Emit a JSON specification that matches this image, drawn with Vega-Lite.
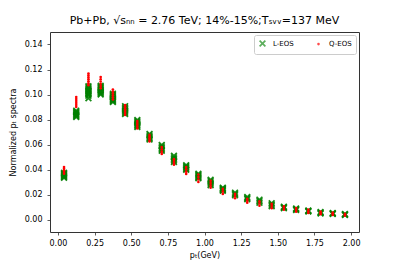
{
  "$schema": "https://vega.github.io/schema/vega-lite/v6.json",
  "width": 309,
  "height": 200,
  "autosize": "none",
  "padding": {"left": 50, "top": 32, "right": 40, "bottom": 34},
  "background": "white",
  "title": {"text": "Pb+Pb, √sₙₙ = 2.76 TeV; 14%-15%;Tₛᵥᵥ=137 MeV", "font": "DejaVu Sans", "fontSize": 11, "fontWeight": "normal", "color": "#000", "offset": 6},
  "config": {
    "view": {"stroke": "#333", "strokeWidth": 1},
    "axis": {"domain": false, "grid": false, "tickColor": "#333", "tickSize": 3, "tickWidth": 0.8, "labelFont": "DejaVu Sans", "labelFontSize": 8, "labelColor": "#000", "titleFont": "DejaVu Sans", "titleFontSize": 8, "titleFontWeight": "normal", "titleColor": "#000"},
    "legend": {"labelFont": "DejaVu Sans", "labelFontSize": 7, "labelColor": "#000"}
  },
  "datasets": {
    "pts": [
      {"pT": 0.0417, "v": 0.0334, "eos": "L-EOS"}, {"pT": 0.0417, "v": 0.0341, "eos": "L-EOS"}, {"pT": 0.0417, "v": 0.0347, "eos": "L-EOS"}, {"pT": 0.0417, "v": 0.0354, "eos": "L-EOS"}, {"pT": 0.0417, "v": 0.0361, "eos": "L-EOS"}, {"pT": 0.0417, "v": 0.0367, "eos": "L-EOS"}, {"pT": 0.0417, "v": 0.0374, "eos": "L-EOS"},
      {"pT": 0.125, "v": 0.082, "eos": "L-EOS"}, {"pT": 0.125, "v": 0.0828, "eos": "L-EOS"}, {"pT": 0.125, "v": 0.0837, "eos": "L-EOS"}, {"pT": 0.125, "v": 0.0845, "eos": "L-EOS"}, {"pT": 0.125, "v": 0.0854, "eos": "L-EOS"}, {"pT": 0.125, "v": 0.0862, "eos": "L-EOS"}, {"pT": 0.125, "v": 0.0871, "eos": "L-EOS"},
      {"pT": 0.2083, "v": 0.097, "eos": "L-EOS"}, {"pT": 0.2083, "v": 0.0991, "eos": "L-EOS"}, {"pT": 0.2083, "v": 0.1, "eos": "L-EOS"}, {"pT": 0.2083, "v": 0.101, "eos": "L-EOS"}, {"pT": 0.2083, "v": 0.1019, "eos": "L-EOS"}, {"pT": 0.2083, "v": 0.1029, "eos": "L-EOS"}, {"pT": 0.2083, "v": 0.1038, "eos": "L-EOS"}, {"pT": 0.2083, "v": 0.1047, "eos": "L-EOS"}, {"pT": 0.2083, "v": 0.1057, "eos": "L-EOS"}, {"pT": 0.2083, "v": 0.1066, "eos": "L-EOS"},
      {"pT": 0.2917, "v": 0.1, "eos": "L-EOS"}, {"pT": 0.2917, "v": 0.1009, "eos": "L-EOS"}, {"pT": 0.2917, "v": 0.1018, "eos": "L-EOS"}, {"pT": 0.2917, "v": 0.1026, "eos": "L-EOS"}, {"pT": 0.2917, "v": 0.1035, "eos": "L-EOS"}, {"pT": 0.2917, "v": 0.1044, "eos": "L-EOS"}, {"pT": 0.2917, "v": 0.1053, "eos": "L-EOS"}, {"pT": 0.2917, "v": 0.1061, "eos": "L-EOS"}, {"pT": 0.2917, "v": 0.107, "eos": "L-EOS"},
      {"pT": 0.375, "v": 0.094, "eos": "L-EOS"}, {"pT": 0.375, "v": 0.0948, "eos": "L-EOS"}, {"pT": 0.375, "v": 0.0957, "eos": "L-EOS"}, {"pT": 0.375, "v": 0.0965, "eos": "L-EOS"}, {"pT": 0.375, "v": 0.0974, "eos": "L-EOS"}, {"pT": 0.375, "v": 0.0982, "eos": "L-EOS"}, {"pT": 0.375, "v": 0.099, "eos": "L-EOS"}, {"pT": 0.375, "v": 0.0998, "eos": "L-EOS"}, {"pT": 0.375, "v": 0.1007, "eos": "L-EOS"},
      {"pT": 0.4583, "v": 0.0844, "eos": "L-EOS"}, {"pT": 0.4583, "v": 0.0854, "eos": "L-EOS"}, {"pT": 0.4583, "v": 0.0865, "eos": "L-EOS"}, {"pT": 0.4583, "v": 0.0875, "eos": "L-EOS"}, {"pT": 0.4583, "v": 0.0886, "eos": "L-EOS"}, {"pT": 0.4583, "v": 0.0896, "eos": "L-EOS"}, {"pT": 0.4583, "v": 0.0907, "eos": "L-EOS"},
      {"pT": 0.5417, "v": 0.074, "eos": "L-EOS"}, {"pT": 0.5417, "v": 0.075, "eos": "L-EOS"}, {"pT": 0.5417, "v": 0.0759, "eos": "L-EOS"}, {"pT": 0.5417, "v": 0.0768, "eos": "L-EOS"}, {"pT": 0.5417, "v": 0.0777, "eos": "L-EOS"}, {"pT": 0.5417, "v": 0.0786, "eos": "L-EOS"}, {"pT": 0.5417, "v": 0.0796, "eos": "L-EOS"},
      {"pT": 0.625, "v": 0.064, "eos": "L-EOS"}, {"pT": 0.625, "v": 0.0651, "eos": "L-EOS"}, {"pT": 0.625, "v": 0.0662, "eos": "L-EOS"}, {"pT": 0.625, "v": 0.0673, "eos": "L-EOS"}, {"pT": 0.625, "v": 0.0685, "eos": "L-EOS"},
      {"pT": 0.7083, "v": 0.055, "eos": "L-EOS"}, {"pT": 0.7083, "v": 0.0561, "eos": "L-EOS"}, {"pT": 0.7083, "v": 0.0573, "eos": "L-EOS"}, {"pT": 0.7083, "v": 0.0585, "eos": "L-EOS"}, {"pT": 0.7083, "v": 0.0597, "eos": "L-EOS"},
      {"pT": 0.7917, "v": 0.046, "eos": "L-EOS"}, {"pT": 0.7917, "v": 0.0472, "eos": "L-EOS"}, {"pT": 0.7917, "v": 0.0485, "eos": "L-EOS"}, {"pT": 0.7917, "v": 0.0497, "eos": "L-EOS"}, {"pT": 0.7917, "v": 0.051, "eos": "L-EOS"},
      {"pT": 0.875, "v": 0.0398, "eos": "L-EOS"}, {"pT": 0.875, "v": 0.0407, "eos": "L-EOS"}, {"pT": 0.875, "v": 0.0416, "eos": "L-EOS"}, {"pT": 0.875, "v": 0.0425, "eos": "L-EOS"}, {"pT": 0.875, "v": 0.0434, "eos": "L-EOS"},
      {"pT": 0.9583, "v": 0.033, "eos": "L-EOS"}, {"pT": 0.9583, "v": 0.0339, "eos": "L-EOS"}, {"pT": 0.9583, "v": 0.0348, "eos": "L-EOS"}, {"pT": 0.9583, "v": 0.0357, "eos": "L-EOS"}, {"pT": 0.9583, "v": 0.0366, "eos": "L-EOS"},
      {"pT": 1.0417, "v": 0.0275, "eos": "L-EOS"}, {"pT": 1.0417, "v": 0.0286, "eos": "L-EOS"}, {"pT": 1.0417, "v": 0.0296, "eos": "L-EOS"}, {"pT": 1.0417, "v": 0.0307, "eos": "L-EOS"}, {"pT": 1.0417, "v": 0.0318, "eos": "L-EOS"},
      {"pT": 1.125, "v": 0.023, "eos": "L-EOS"}, {"pT": 1.125, "v": 0.0237, "eos": "L-EOS"}, {"pT": 1.125, "v": 0.0243, "eos": "L-EOS"}, {"pT": 1.125, "v": 0.0249, "eos": "L-EOS"}, {"pT": 1.125, "v": 0.0255, "eos": "L-EOS"},
      {"pT": 1.2083, "v": 0.0195, "eos": "L-EOS"}, {"pT": 1.2083, "v": 0.0205, "eos": "L-EOS"}, {"pT": 1.2083, "v": 0.0215, "eos": "L-EOS"},
      {"pT": 1.2917, "v": 0.0163, "eos": "L-EOS"}, {"pT": 1.2917, "v": 0.0171, "eos": "L-EOS"}, {"pT": 1.2917, "v": 0.018, "eos": "L-EOS"},
      {"pT": 1.375, "v": 0.0135, "eos": "L-EOS"}, {"pT": 1.375, "v": 0.0147, "eos": "L-EOS"}, {"pT": 1.375, "v": 0.0159, "eos": "L-EOS"},
      {"pT": 1.4583, "v": 0.0107, "eos": "L-EOS"}, {"pT": 1.4583, "v": 0.0118, "eos": "L-EOS"}, {"pT": 1.4583, "v": 0.013, "eos": "L-EOS"},
      {"pT": 1.5417, "v": 0.0091, "eos": "L-EOS"}, {"pT": 1.5417, "v": 0.0097, "eos": "L-EOS"}, {"pT": 1.5417, "v": 0.0103, "eos": "L-EOS"},
      {"pT": 1.625, "v": 0.0076, "eos": "L-EOS"}, {"pT": 1.625, "v": 0.0082, "eos": "L-EOS"}, {"pT": 1.625, "v": 0.0088, "eos": "L-EOS"},
      {"pT": 1.7083, "v": 0.0064, "eos": "L-EOS"}, {"pT": 1.7083, "v": 0.0068, "eos": "L-EOS"}, {"pT": 1.7083, "v": 0.0072, "eos": "L-EOS"},
      {"pT": 1.7917, "v": 0.0048, "eos": "L-EOS"}, {"pT": 1.7917, "v": 0.0054, "eos": "L-EOS"}, {"pT": 1.7917, "v": 0.006, "eos": "L-EOS"},
      {"pT": 1.875, "v": 0.0044, "eos": "L-EOS"}, {"pT": 1.875, "v": 0.0048, "eos": "L-EOS"}, {"pT": 1.875, "v": 0.0052, "eos": "L-EOS"},
      {"pT": 1.9583, "v": 0.0036, "eos": "L-EOS"}, {"pT": 1.9583, "v": 0.004, "eos": "L-EOS"}, {"pT": 1.9583, "v": 0.0044, "eos": "L-EOS"},
      {"pT": 0.0417, "v": 0.0366, "eos": "Q-EOS"}, {"pT": 0.0417, "v": 0.038, "eos": "Q-EOS"}, {"pT": 0.0417, "v": 0.0393, "eos": "Q-EOS"}, {"pT": 0.0417, "v": 0.0407, "eos": "Q-EOS"}, {"pT": 0.0417, "v": 0.042, "eos": "Q-EOS"},
      {"pT": 0.125, "v": 0.09, "eos": "Q-EOS"}, {"pT": 0.125, "v": 0.0916, "eos": "Q-EOS"}, {"pT": 0.125, "v": 0.0932, "eos": "Q-EOS"}, {"pT": 0.125, "v": 0.0948, "eos": "Q-EOS"}, {"pT": 0.125, "v": 0.0964, "eos": "Q-EOS"}, {"pT": 0.125, "v": 0.098, "eos": "Q-EOS"},
      {"pT": 0.2083, "v": 0.1075, "eos": "Q-EOS"}, {"pT": 0.2083, "v": 0.109, "eos": "Q-EOS"}, {"pT": 0.2083, "v": 0.1106, "eos": "Q-EOS"}, {"pT": 0.2083, "v": 0.1122, "eos": "Q-EOS"}, {"pT": 0.2083, "v": 0.1137, "eos": "Q-EOS"}, {"pT": 0.2083, "v": 0.1153, "eos": "Q-EOS"}, {"pT": 0.2083, "v": 0.1168, "eos": "Q-EOS"},
      {"pT": 0.2917, "v": 0.105, "eos": "Q-EOS"}, {"pT": 0.2917, "v": 0.1068, "eos": "Q-EOS"}, {"pT": 0.2917, "v": 0.1086, "eos": "Q-EOS"}, {"pT": 0.2917, "v": 0.1104, "eos": "Q-EOS"}, {"pT": 0.2917, "v": 0.1122, "eos": "Q-EOS"}, {"pT": 0.2917, "v": 0.114, "eos": "Q-EOS"},
      {"pT": 0.375, "v": 0.096, "eos": "Q-EOS"}, {"pT": 0.375, "v": 0.0976, "eos": "Q-EOS"}, {"pT": 0.375, "v": 0.0992, "eos": "Q-EOS"}, {"pT": 0.375, "v": 0.1008, "eos": "Q-EOS"}, {"pT": 0.375, "v": 0.1024, "eos": "Q-EOS"}, {"pT": 0.375, "v": 0.104, "eos": "Q-EOS"},
      {"pT": 0.4583, "v": 0.0836, "eos": "Q-EOS"}, {"pT": 0.4583, "v": 0.0852, "eos": "Q-EOS"}, {"pT": 0.4583, "v": 0.0868, "eos": "Q-EOS"}, {"pT": 0.4583, "v": 0.0883, "eos": "Q-EOS"}, {"pT": 0.4583, "v": 0.0899, "eos": "Q-EOS"}, {"pT": 0.4583, "v": 0.0915, "eos": "Q-EOS"},
      {"pT": 0.5417, "v": 0.0728, "eos": "Q-EOS"}, {"pT": 0.5417, "v": 0.0743, "eos": "Q-EOS"}, {"pT": 0.5417, "v": 0.0758, "eos": "Q-EOS"}, {"pT": 0.5417, "v": 0.0773, "eos": "Q-EOS"}, {"pT": 0.5417, "v": 0.0788, "eos": "Q-EOS"},
      {"pT": 0.625, "v": 0.0625, "eos": "Q-EOS"}, {"pT": 0.625, "v": 0.0638, "eos": "Q-EOS"}, {"pT": 0.625, "v": 0.0651, "eos": "Q-EOS"}, {"pT": 0.625, "v": 0.0664, "eos": "Q-EOS"}, {"pT": 0.625, "v": 0.0677, "eos": "Q-EOS"},
      {"pT": 0.7083, "v": 0.0525, "eos": "Q-EOS"}, {"pT": 0.7083, "v": 0.0543, "eos": "Q-EOS"}, {"pT": 0.7083, "v": 0.0562, "eos": "Q-EOS"}, {"pT": 0.7083, "v": 0.058, "eos": "Q-EOS"},
      {"pT": 0.7917, "v": 0.0438, "eos": "Q-EOS"}, {"pT": 0.7917, "v": 0.0453, "eos": "Q-EOS"}, {"pT": 0.7917, "v": 0.0468, "eos": "Q-EOS"}, {"pT": 0.7917, "v": 0.0483, "eos": "Q-EOS"},
      {"pT": 0.875, "v": 0.0365, "eos": "Q-EOS"}, {"pT": 0.875, "v": 0.0383, "eos": "Q-EOS"}, {"pT": 0.875, "v": 0.0402, "eos": "Q-EOS"}, {"pT": 0.875, "v": 0.042, "eos": "Q-EOS"},
      {"pT": 0.9583, "v": 0.03, "eos": "Q-EOS"}, {"pT": 0.9583, "v": 0.032, "eos": "Q-EOS"}, {"pT": 0.9583, "v": 0.034, "eos": "Q-EOS"}, {"pT": 0.9583, "v": 0.036, "eos": "Q-EOS"},
      {"pT": 1.0417, "v": 0.0255, "eos": "Q-EOS"}, {"pT": 1.0417, "v": 0.0273, "eos": "Q-EOS"}, {"pT": 1.0417, "v": 0.0292, "eos": "Q-EOS"}, {"pT": 1.0417, "v": 0.031, "eos": "Q-EOS"},
      {"pT": 1.125, "v": 0.0205, "eos": "Q-EOS"}, {"pT": 1.125, "v": 0.0225, "eos": "Q-EOS"}, {"pT": 1.125, "v": 0.0245, "eos": "Q-EOS"},
      {"pT": 1.2083, "v": 0.017, "eos": "Q-EOS"}, {"pT": 1.2083, "v": 0.0188, "eos": "Q-EOS"}, {"pT": 1.2083, "v": 0.0205, "eos": "Q-EOS"},
      {"pT": 1.2917, "v": 0.0135, "eos": "Q-EOS"}, {"pT": 1.2917, "v": 0.015, "eos": "Q-EOS"}, {"pT": 1.2917, "v": 0.0165, "eos": "Q-EOS"},
      {"pT": 1.375, "v": 0.011, "eos": "Q-EOS"}, {"pT": 1.375, "v": 0.0128, "eos": "Q-EOS"}, {"pT": 1.375, "v": 0.0145, "eos": "Q-EOS"},
      {"pT": 1.4583, "v": 0.009, "eos": "Q-EOS"}, {"pT": 1.4583, "v": 0.0108, "eos": "Q-EOS"}, {"pT": 1.4583, "v": 0.0125, "eos": "Q-EOS"},
      {"pT": 1.5417, "v": 0.0078, "eos": "Q-EOS"}, {"pT": 1.5417, "v": 0.0092, "eos": "Q-EOS"}, {"pT": 1.5417, "v": 0.0105, "eos": "Q-EOS"},
      {"pT": 1.625, "v": 0.0062, "eos": "Q-EOS"}, {"pT": 1.625, "v": 0.0077, "eos": "Q-EOS"}, {"pT": 1.625, "v": 0.0092, "eos": "Q-EOS"},
      {"pT": 1.7083, "v": 0.0052, "eos": "Q-EOS"}, {"pT": 1.7083, "v": 0.0066, "eos": "Q-EOS"}, {"pT": 1.7083, "v": 0.008, "eos": "Q-EOS"},
      {"pT": 1.7917, "v": 0.0043, "eos": "Q-EOS"}, {"pT": 1.7917, "v": 0.0053, "eos": "Q-EOS"}, {"pT": 1.7917, "v": 0.0063, "eos": "Q-EOS"},
      {"pT": 1.875, "v": 0.0037, "eos": "Q-EOS"}, {"pT": 1.875, "v": 0.0046, "eos": "Q-EOS"}, {"pT": 1.875, "v": 0.0055, "eos": "Q-EOS"},
      {"pT": 1.9583, "v": 0.0031, "eos": "Q-EOS"}, {"pT": 1.9583, "v": 0.0038, "eos": "Q-EOS"}, {"pT": 1.9583, "v": 0.0045, "eos": "Q-EOS"}
    ]
  },
  "data": {"name": "pts"},
  "mark": {"type": "point", "filled": true, "strokeWidth": 0},
  "encoding": {
    "x": {"field": "pT", "type": "quantitative", "scale": {"domain": [-0.054, 2.054], "nice": false, "zero": false},
      "axis": {"title": "pₜ(GeV)", "values": [0, 0.25, 0.5, 0.75, 1, 1.25, 1.5, 1.75, 2], "format": ".2f", "labelPadding": 4, "titlePadding": 4}},
    "y": {"field": "v", "type": "quantitative", "scale": {"domain": [-0.01, 0.15], "nice": false, "zero": false},
      "axis": {"title": "Normalized pₜ spectra", "values": [0, 0.02, 0.04, 0.06, 0.08, 0.1, 0.12, 0.14], "format": ".2f", "labelPadding": 5, "titlePadding": 7}},
    "color": {"field": "eos", "type": "nominal", "scale": {"domain": ["L-EOS", "Q-EOS"], "range": ["#008000", "#ff0000"]},
      "legend": {"title": null, "orient": "top-right", "offset": 3, "direction": "horizontal", "columns": 2, "columnPadding": 20, "labelOffset": 6, "padding": 4, "strokeColor": "#ccc", "fillColor": "white", "cornerRadius": 2, "symbolOpacity": 0.5}},
    "shape": {"field": "eos", "type": "nominal", "scale": {"domain": ["L-EOS", "Q-EOS"], "range": ["M-1,-0.65L-0.65,-1L0,-0.35L0.65,-1L1,-0.65L0.35,0L1,0.65L0.65,1L0,0.35L-0.65,1L-1,0.65L-0.35,0Z", "circle"]}},
    "size": {"field": "eos", "type": "nominal", "scale": {"domain": ["L-EOS", "Q-EOS"], "range": [49, 7]}},
    "opacity": {"field": "eos", "type": "nominal", "scale": {"domain": ["L-EOS", "Q-EOS"], "range": [0.9, 1]}}
  }
}
